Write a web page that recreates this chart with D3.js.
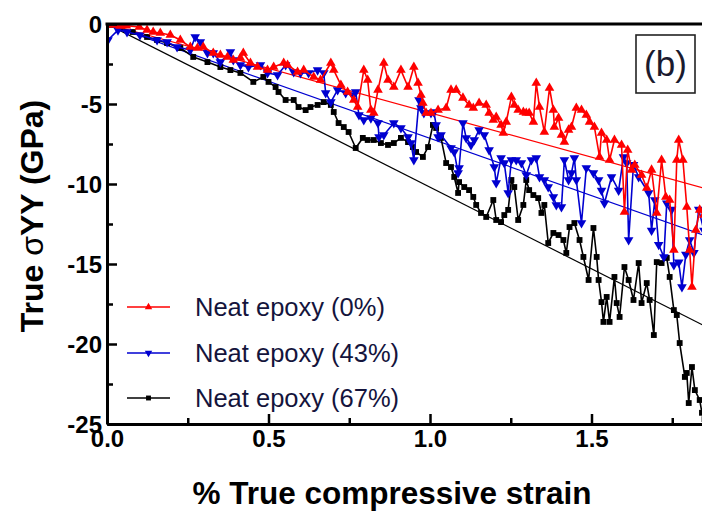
<!DOCTYPE html>
<html><head><meta charset="utf-8">
<script src="https://cdn.jsdelivr.net/npm/d3@7"></script>
<style>
html,body{margin:0;padding:0;background:#fff;}
svg{display:block;}
</style></head>
<body>
<svg id="chart" width="702" height="511"></svg>
<script>
// ---- data (strain %, true stress GPa) ----
const seriesNames = ["Neat epoxy (0%)", "Neat epoxy (43%)", "Neat epoxy (67%)"];
const xTicks = [0.0, 0.5, 1.0, 1.5];
const xMinorTicks = [0.25, 0.75, 1.25, 1.75];
const yTicks = [0, -5, -10, -15, -20, -25];
const yMinorTicks = [-2.5, -7.5, -12.5, -17.5, -22.5];
const fitSlopes = [-5.55, -7.15, -10.2];   // linear fits through origin
const fitXEnd = 2.0;

const red0 = [[0,0],[0.02,-0.06],[0.04,-0.12],[0.06,-0.1],[0.10,-0.19],[0.124,-0.38],[0.143,-0.5],[0.165,-0.56],[0.196,-0.69],[0.227,-1.0],[0.258,-1.44],[0.28,-1.5],[0.298,-1.44],[0.329,-1.81],[0.351,-1.94],[0.373,-2.06],[0.391,-2.25],[0.413,-2.12],[0.422,-1.81],[0.444,-2.44],[0.466,-2.69],[0.497,-2.88],[0.516,-2.69],[0.547,-2.44],[0.559,-2.56],[0.59,-3.0],[0.609,-2.88],[0.64,-3.31],[0.661,-3.5],[0.693,-2.44],[0.702,-2.88],[0.724,-3.81],[0.745,-4.25],[0.764,-4.75],[0.776,-5.19],[0.795,-2.88],[0.807,-3.5],[0.817,-5.38],[0.826,-5.56],[0.839,-4.12],[0.857,-2.44],[0.87,-3.5],[0.888,-3.94],[0.91,-2.88],[0.932,-3.94],[0.95,-2.69],[0.963,-3.69],[0.972,-4.44],[0.978,-4.94],[0.988,-5.56],[1.003,-5.56],[1.025,-5.38],[1.05,-5.25],[1.065,-4.12],[1.081,-4.12],[1.102,-4.62],[1.121,-5.06],[1.134,-5.25],[1.152,-4.94],[1.174,-5.06],[1.183,-5.56],[1.196,-6.0],[1.205,-5.81],[1.22,-6.31],[1.227,-6.81],[1.236,-6.12],[1.252,-4.56],[1.261,-5.06],[1.273,-5.38],[1.289,-5.5],[1.298,-5.56],[1.307,-5.56],[1.32,-6.12],[1.329,-3.69],[1.339,-5.19],[1.354,-6.75],[1.37,-4.0],[1.382,-5.38],[1.385,-6.44],[1.398,-5.88],[1.407,-6.94],[1.416,-7.38],[1.429,-6.62],[1.438,-6.44],[1.453,-5.25],[1.469,-5.38],[1.484,-5.69],[1.494,-6.12],[1.509,-6.44],[1.525,-8.31],[1.531,-6.81],[1.547,-7.25],[1.556,-8.5],[1.571,-7.25],[1.593,-7.56],[1.602,-11.75],[1.612,-7.88],[1.624,-9.12],[1.634,-8.81],[1.655,-9.44],[1.671,-10.25],[1.686,-9.12],[1.702,-11.81],[1.717,-8.5],[1.73,-10.81],[1.742,-11.0],[1.755,-14.12],[1.764,-8.5],[1.77,-7.25],[1.783,-8.5],[1.795,-11.44],[1.804,-14.12],[1.811,-16.44],[1.823,-12.88],[1.835,-11.62],[1.848,-11.94]];

const blue43 = [[0.003,-1.0],[0.034,-0.38],[0.062,-0.5],[0.102,-0.69],[0.155,-1.0],[0.186,-1.12],[0.217,-1.44],[0.258,-1.62],[0.273,-0.81],[0.289,-1.12],[0.311,-1.81],[0.329,-1.81],[0.351,-2.38],[0.382,-1.75],[0.391,-2.25],[0.413,-2.56],[0.438,-2.69],[0.475,-2.56],[0.497,-3.06],[0.528,-3.19],[0.553,-2.56],[0.578,-3.0],[0.599,-3.06],[0.624,-3.06],[0.652,-2.88],[0.671,-3.06],[0.677,-4.31],[0.693,-4.88],[0.714,-4.12],[0.739,-4.31],[0.761,-4.44],[0.77,-4.25],[0.78,-5.69],[0.795,-6.0],[0.817,-5.88],[0.839,-6.19],[0.842,-7.06],[0.857,-6.94],[0.888,-6.19],[0.91,-6.5],[0.932,-7.06],[0.941,-7.44],[0.95,-8.5],[0.966,-4.75],[0.972,-5.25],[0.981,-5.56],[1.003,-5.56],[1.012,-5.5],[1.019,-6.31],[1.025,-7.06],[1.034,-6.94],[1.065,-7.75],[1.075,-8.0],[1.087,-9.31],[1.09,-9.0],[1.102,-6.19],[1.112,-7.12],[1.127,-7.56],[1.137,-7.25],[1.152,-6.62],[1.168,-6.94],[1.183,-7.88],[1.199,-8.94],[1.205,-9.94],[1.22,-8.38],[1.23,-8.69],[1.242,-10.56],[1.252,-8.5],[1.267,-8.5],[1.283,-8.69],[1.298,-9.44],[1.314,-8.5],[1.329,-8.38],[1.339,-9.56],[1.354,-9.75],[1.366,-10.19],[1.382,-10.81],[1.391,-11.31],[1.407,-11.44],[1.416,-8.5],[1.429,-9.75],[1.438,-9.31],[1.447,-8.38],[1.453,-9.75],[1.469,-12.44],[1.484,-9.0],[1.506,-9.31],[1.522,-9.75],[1.531,-10.4],[1.54,-11.2],[1.562,-9.56],[1.584,-10.4],[1.599,-8.31],[1.609,-8.69],[1.615,-13.5],[1.63,-8.8],[1.646,-9.56],[1.677,-10.56],[1.686,-12.9],[1.696,-11.0],[1.708,-13.8],[1.724,-14.56],[1.733,-11.2],[1.748,-11.6],[1.755,-15.06],[1.77,-14.9],[1.78,-16.44],[1.792,-14.4],[1.804,-13.5],[1.817,-14.3],[1.832,-11.6],[1.848,-12.9]];

const black67 = [[0,0],[0.01,-0.06],[0.04,-0.25],[0.08,-0.5],[0.124,-0.81],[0.155,-1.0],[0.186,-1.19],[0.227,-1.5],[0.267,-2.06],[0.311,-2.38],[0.351,-2.69],[0.382,-2.88],[0.413,-3.06],[0.453,-3.62],[0.484,-3.31],[0.5,-3.62],[0.522,-3.94],[0.531,-4.25],[0.553,-4.75],[0.578,-4.75],[0.593,-5.19],[0.615,-5.38],[0.63,-5.19],[0.652,-5.06],[0.671,-4.88],[0.693,-5.06],[0.702,-5.5],[0.717,-6.19],[0.733,-6.44],[0.748,-6.75],[0.77,-7.75],[0.792,-7.12],[0.807,-7.25],[0.826,-7.25],[0.848,-7.44],[0.87,-7.56],[0.888,-7.44],[0.91,-7.12],[0.932,-7.38],[0.947,-7.69],[0.957,-8.0],[0.978,-8.31],[0.994,-7.69],[1.009,-6.31],[1.019,-6.5],[1.034,-7.12],[1.05,-8.69],[1.065,-8.94],[1.075,-9.56],[1.087,-10.56],[1.09,-9.88],[1.106,-10.19],[1.121,-10.38],[1.134,-10.81],[1.143,-11.31],[1.158,-11.81],[1.174,-12.06],[1.196,-11.0],[1.205,-12.25],[1.22,-12.38],[1.23,-11.94],[1.242,-11.62],[1.252,-9.75],[1.261,-10.19],[1.273,-12.25],[1.289,-11.31],[1.298,-9.75],[1.307,-10.38],[1.32,-10.69],[1.335,-10.88],[1.345,-11.81],[1.354,-11.31],[1.366,-13.69],[1.382,-13.06],[1.398,-13.19],[1.413,-13.5],[1.422,-14.31],[1.432,-12.69],[1.447,-12.44],[1.463,-13.5],[1.475,-14.56],[1.491,-16.0],[1.506,-12.75],[1.516,-14.56],[1.522,-16.0],[1.531,-17.38],[1.537,-18.62],[1.547,-17.06],[1.556,-18.62],[1.571,-15.81],[1.578,-17.44],[1.587,-18.31],[1.602,-15.19],[1.615,-16.0],[1.63,-17.25],[1.646,-14.94],[1.655,-17.44],[1.671,-16.19],[1.68,-17.25],[1.693,-19.44],[1.702,-14.88],[1.717,-14.94],[1.733,-14.62],[1.742,-15.81],[1.755,-17.88],[1.764,-18.19],[1.773,-19.94],[1.789,-22.06],[1.795,-21.81],[1.801,-23.69],[1.811,-21.44],[1.82,-22.88],[1.835,-23.5],[1.842,-24.3],[1.85,-24.7]];

const seriesData = [red0, blue43, black67];
const seriesColors = ["#ff0000", "#0000d0", "#000000"];

// ---- layout ----
const svg = d3.select("#chart");
const mLeft = 107, mTop = 24, mBottom = 424;
const x = d3.scaleLinear().domain([0, 2.0]).range([mLeft, mLeft + 646]);
const y = d3.scaleLinear().domain([-25, 0]).range([mBottom, mTop]);

svg.append("defs").append("clipPath").attr("id", "plotclip")
  .append("rect").attr("x", mLeft).attr("y", mTop).attr("width", 702 - mLeft).attr("height", mBottom - mTop);

const plot = svg.append("g").attr("clip-path", "url(#plotclip)");

// fit lines
const line = d3.line().x(d => x(d[0])).y(d => y(d[1]));
[2, 1, 0].forEach(i => {
  plot.append("path")
    .attr("d", line([[0, 0], [fitXEnd, fitSlopes[i] * fitXEnd]]))
    .attr("fill", "none").attr("stroke", seriesColors[i]).attr("stroke-width", 1.2);
});

// series
const symbols = [
  d3.symbol().type(d3.symbolTriangle).size(40),
  d3.symbol().type(d3.symbolTriangle).size(40),
  d3.symbol().type(d3.symbolSquare).size(34)
];
const rot = [0, 180, 0];
[2, 1, 0].forEach(i => {
  plot.append("path")
    .attr("d", line(seriesData[i]))
    .attr("fill", "none").attr("stroke", seriesColors[i]).attr("stroke-width", 1.6)
    .attr("stroke-linejoin", "round");
  plot.append("g").selectAll("path").data(seriesData[i]).join("path")
    .attr("d", symbols[i]())
    .attr("transform", d => `translate(${x(d[0])},${y(d[1])}) rotate(${rot[i]})`)
    .attr("fill", seriesColors[i]);
});

// axes
const tickFont = "'Liberation Sans', Arial, sans-serif";
const hyphenFmt = f => d => f(d).replace("\u2212", "-");
svg.append("g").attr("transform", `translate(0,${mBottom})`)
  .call(d3.axisBottom(x).tickValues(xTicks).tickSizeInner(-10).tickSizeOuter(0).tickPadding(6).tickFormat(d3.format(".1f")));
svg.append("g").attr("transform", `translate(0,${mBottom})`)
  .call(d3.axisBottom(x).tickValues(xMinorTicks).tickSizeInner(-6).tickSizeOuter(0).tickFormat(""))
  .select(".domain").remove();
const yAxis = svg.append("g").attr("transform", `translate(${mLeft},0)`)
  .call(d3.axisLeft(y).tickValues(yTicks).tickSizeInner(-10).tickSizeOuter(0).tickPadding(5).tickFormat(hyphenFmt(d3.format("d"))));
svg.append("g").attr("transform", `translate(${mLeft},0)`)
  .call(d3.axisLeft(y).tickValues(yMinorTicks).tickSizeInner(-6).tickSizeOuter(0).tickFormat(""))
  .select(".domain").remove();

svg.selectAll(".domain").attr("stroke", "#000").attr("stroke-width", 3);
svg.selectAll(".tick line").attr("stroke", "#000").attr("stroke-width", 2.5);
svg.selectAll(".tick text").attr("font-family", tickFont).attr("font-weight", "bold")
  .attr("font-size", 24).attr("fill", "#000");
yAxis.selectAll(".tick text").attr("dy", "0.36em");

// top frame line
svg.append("line").attr("x1", mLeft - 1.5).attr("x2", 702).attr("y1", mTop).attr("y2", mTop)
  .attr("stroke", "#000").attr("stroke-width", 3);

// axis titles
svg.append("text").attr("x", 392).attr("y", 504).attr("text-anchor", "middle")
  .attr("font-family", tickFont).attr("font-weight", "bold").attr("font-size", 31.5)
  .text("% True compressive strain");
const yl = svg.append("text").attr("transform", "translate(43,216) rotate(-90)")
  .attr("text-anchor", "middle").attr("font-family", tickFont).attr("font-weight", "bold").attr("font-size", 32);
yl.append("tspan").text("True ");
yl.append("tspan").attr("font-weight", "normal").text("σ");
yl.append("tspan").text("YY (GPa)");

// legend
const legend = svg.append("g");
const legY = [307, 353, 398];
seriesNames.forEach((name, i) => {
  legend.append("line").attr("x1", 127).attr("x2", 170).attr("y1", legY[i]).attr("y2", legY[i])
    .attr("stroke", seriesColors[i]).attr("stroke-width", 1.4);
  legend.append("path").attr("d", d3.symbol().type(i === 2 ? d3.symbolSquare : d3.symbolTriangle).size(24)())
    .attr("transform", `translate(148.5,${legY[i]}) rotate(${rot[i]})`).attr("fill", seriesColors[i]);
  legend.append("text").attr("x", 195).attr("y", legY[i] + 9)
    .attr("font-family", tickFont).attr("font-size", 25.5).attr("fill", "#14143c").text(name);
});

// panel label
svg.append("rect").attr("x", 636).attr("y", 35).attr("width", 59).attr("height", 58)
  .attr("fill", "#fff").attr("stroke", "#222").attr("stroke-width", 1.6);
svg.append("text").attr("x", 665.5).attr("y", 76).attr("text-anchor", "middle")
  .attr("font-family", tickFont).attr("font-size", 35).attr("fill", "#1a1a2e").text("(b)");
</script>
</body></html>
